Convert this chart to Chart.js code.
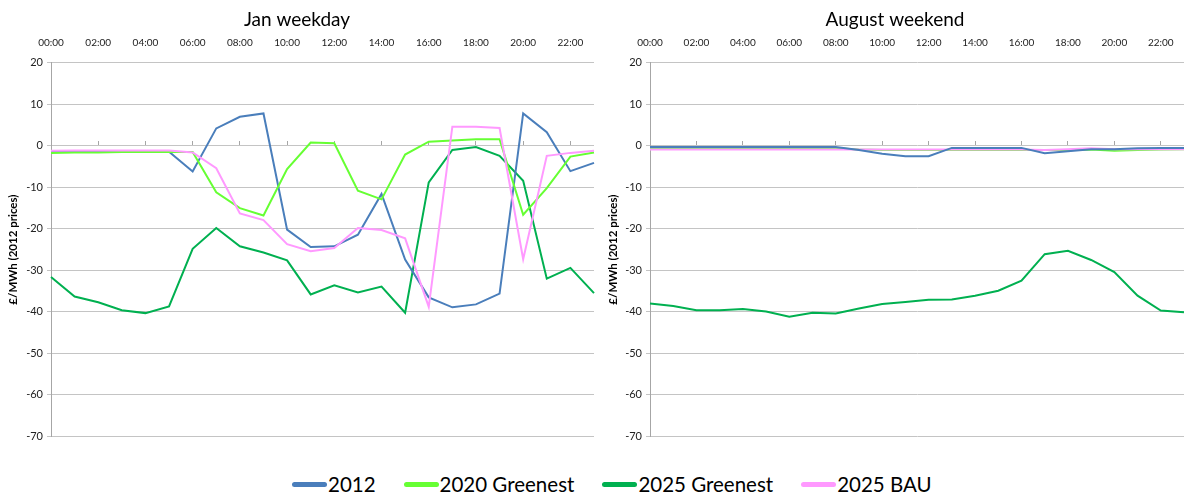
<!DOCTYPE html>
<html>
<head>
<meta charset="utf-8">
<script src="https://cdn.jsdelivr.net/npm/chart.js@4"></script>
<style>
  html, body { margin: 0; padding: 0; background: #fff; overflow: hidden; }
  body { width: 1186px; height: 498px; position: relative; font-family: Lato, sans-serif; }
  .box { position: absolute; top: 0; }
  #legend { position: absolute; top: 472px; left: 292px; display: flex; }
  .item { display: flex; align-items: center; margin-right: 28px; font-size: 20.5px; color: #000; }
  .swatch { width: 35px; height: 5px; border-radius: 3px; margin-right: 1px; }
</style>
</head>
<body>
<div class="box" style="left:0;width:600px;height:447px"><canvas id="janChart"></canvas></div>
<div class="box" style="left:600px;width:590px;height:447px"><canvas id="augChart"></canvas></div>
<div id="legend"></div>
<script>
const hours = ['00:00','01:00','02:00','03:00','04:00','05:00','06:00','07:00','08:00','09:00','10:00','11:00',
               '12:00','13:00','14:00','15:00','16:00','17:00','18:00','19:00','20:00','21:00','22:00','23:00'];
const seriesNames = ['2012', '2020 Greenest', '2025 Greenest', '2025 BAU'];
const seriesColors = ['#4a7ebb', '#66ff33', '#00b050', '#ff99ff'];

// Jan weekday
const jan2012 = [-1.4, -1.4, -1.4, -1.4, -1.4, -1.4, -6.2, 4.2, 7.0, 7.8, -20.2, -24.4,
                 -24.2, -21.4, -11.6, -27.4, -36.5, -38.9, -38.2, -35.6, 7.8, 3.3, -6.1, -4.1];
const jan2020G = [-1.7, -1.6, -1.6, -1.5, -1.5, -1.5, -1.5, -11.2, -15.0, -16.8, -5.6, 0.8,
                  0.6, -10.8, -12.9, -2.1, 1.0, 1.3, 1.6, 1.6, -16.6, -10.2, -2.6, -1.6];
const jan2025G = [-31.6, -36.3, -37.7, -39.6, -40.3, -38.7, -24.8, -19.8, -24.2, -25.7, -27.6, -35.8,
                  -33.6, -35.3, -33.9, -40.2, -8.8, -1.0, -0.3, -2.4, -8.4, -32.0, -29.4, -35.5];
const jan2025BAU = [-1.2, -1.1, -1.1, -1.1, -1.1, -1.1, -1.6, -5.4, -16.3, -17.9, -23.7, -25.4,
                    -24.6, -19.8, -20.3, -22.3, -38.8, 4.6, 4.6, 4.3, -27.3, -2.4, -1.7, -1.2];

// August weekend
const aug2012 = [-0.3, -0.3, -0.3, -0.3, -0.3, -0.3, -0.3, -0.3, -0.3, -1.0, -1.9, -2.5,
                 -2.5, -0.5, -0.5, -0.5, -0.5, -1.8, -1.3, -0.8, -0.8, -0.6, -0.5, -0.5];
const aug2020G = [-0.6, -0.6, -0.6, -0.6, -0.6, -0.6, -0.6, -0.6, -0.6, -0.9, -1.0, -1.0,
                  -1.0, -1.0, -1.0, -1.0, -1.0, -1.0, -1.0, -0.9, -1.2, -1.0, -0.9, -0.8];
const aug2025G = [-38.0, -38.6, -39.6, -39.6, -39.3, -39.9, -41.2, -40.2, -40.4, -39.2, -38.1, -37.6,
                  -37.1, -37.0, -36.1, -34.9, -32.5, -26.1, -25.3, -27.5, -30.4, -36.1, -39.7, -40.1];
const aug2025BAU = [-0.9, -0.9, -0.9, -0.9, -0.9, -0.9, -0.9, -0.9, -0.9, -0.9, -0.9, -0.9,
                    -0.9, -0.9, -0.9, -0.9, -0.9, -1.0, -0.8, -0.6, -0.8, -0.8, -0.8, -0.8];

const FONT = 'Lato, "Open Sans", sans-serif';

// lower order = drawn on top
function makeChart(id, title, values, drawOrder, axisWidth, padRight) {
    return new Chart(document.getElementById(id).getContext('2d'), {
        type: 'line',
        data: {
            labels: hours,
            datasets: values.map((v, i) => ({
                label: seriesNames[i],
                data: v,
                borderColor: seriesColors[i],
                backgroundColor: seriesColors[i],
                borderWidth: 2,
                pointRadius: 0,
                tension: 0,
                fill: false,
                order: drawOrder[i]
            }))
        },
        options: {
            responsive: true,
            maintainAspectRatio: false,
            animation: false,
            layout: { padding: { left: 0, right: padRight, top: 0, bottom: 5 } },
            plugins: {
                legend: { display: false },
                tooltip: { enabled: false },
                title: {
                    display: true,
                    text: title,
                    color: '#000',
                    font: { family: FONT, size: 19, weight: 'normal' },
                    padding: { top: 8, bottom: 5 }
                }
            },
            scales: {
                x: {
                    position: 'top',
                    offset: false,
                    grid: { display: false },
                    border: { display: false },
                    ticks: {
                        autoSkip: false,
                        maxRotation: 0,
                        padding: 6,
                        color: '#222',
                        font: { family: FONT, size: 10 },
                        callback: function(val, idx) { return idx % 2 === 0 ? this.getLabelForValue(val) : ''; }
                    },
                    afterFit: s => { s.height = 27; }
                },
                xZero: {
                    type: 'category',
                    axis: 'x',
                    position: { y: 0 },
                    offset: false,
                    border: { display: false },
                    grid: {
                        drawOnChartArea: false,
                        drawTicks: true,
                        tickLength: -5,
                        color: ctx => (ctx.index % 2 === 0 ? '#a6a6a6' : 'rgba(0,0,0,0)')
                    },
                    ticks: { display: false, autoSkip: false },
                    afterFit: s => { s.height = 0; }
                },
                y: {
                    min: -70,
                    max: 20,
                    ticks: {
                        stepSize: 10,
                        color: '#222',
                        padding: 4,
                        font: { family: FONT, size: 11 }
                    },
                    grid: { color: '#c4c4c4', lineWidth: 1, tickLength: 4 },
                    border: { color: '#a6a6a6' },
                    title: {
                        display: true,
                        text: '£/MWh (2012 prices)',
                        color: '#000',
                        font: { family: FONT, size: 11.5, weight: 'bold' },
                        padding: { top: 6, bottom: 0 }
                    },
                    afterFit: s => { s.width = axisWidth; }
                }
            }
        }
    });
}

makeChart('janChart', 'Jan weekday', [jan2012, jan2020G, jan2025G, jan2025BAU], [2, 1, 3, 0], 51, 6);
makeChart('augChart', 'August weekend', [aug2012, aug2020G, aug2025G, aug2025BAU], [0, 2, 3, 1], 50, 0);

const legend = document.getElementById('legend');
seriesNames.forEach((name, i) => {
    const item = document.createElement('div');
    item.className = 'item';
    const sw = document.createElement('span');
    sw.className = 'swatch';
    sw.style.background = seriesColors[i];
    const txt = document.createElement('span');
    txt.textContent = name;
    item.appendChild(sw);
    item.appendChild(txt);
    legend.appendChild(item);
});
</script>
</body>
</html>
